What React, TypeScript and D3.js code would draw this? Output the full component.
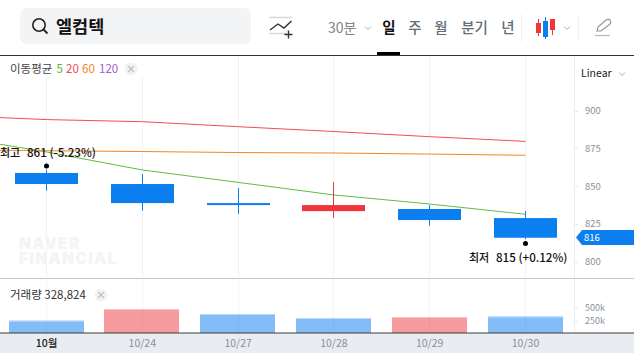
import React from "react";
import * as d3 from "d3";

const W = 634, H = 353;
const FONT = "'Noto Sans CJK KR','Noto Sans',sans-serif";

// ---- data ----
const dateLabels = ["10월", "10/24", "10/27", "10/28", "10/29", "10/30"];
const opens = [858.7, 851.4, 838.8, 833.5, 834.9, 828.9];
const closes = [851.4, 838.8, 837.5, 837.5, 827.6, 815.9];
const highs = [861, 858, 848.7, 852.7, 837.5, 833.5];
const lows = [847, 833.7, 831.7, 829, 823.8, 815];
const volumes = [246, 480, 380, 300, 320, 328.824];
const maIndex = [-1, 0, 1, 2, 3, 4, 5];
const ma5 = [883.1, 872.6, 860.7, 852.5, 844.2, 838.2, 831.4];
const ma20 = [896.7, 894, 892.6, 889.3, 886.1, 882.7, 879.6];
const ma60 = [874.2, 873.4, 872.9, 872.2, 871.9, 871.2, 870.4];
const priceTicks = [900, 875, 850, 825, 800];
const volumeTicks = [500, 250];
const currentPrice = 816;
const periods = ["일", "주", "월", "분기", "년"];
const periodX = [389, 415, 441, 474.5, 508];
const maLegend = [
  { t: "5", c: "#5cb531" }, { t: "20", c: "#ee4b4b" }, { t: "60", c: "#f5841f" }, { t: "120", c: "#a35bd0" },
];
const BLUE = "#0b7ff0", RED = "#f2353b";

const x = d3.scaleLinear().domain([0, 5]).range([46.5, 525.5]);
const y = d3.scaleLinear().domain([800, 900]).range([261.8, 110.5]);
const yVol = d3.scaleLinear().domain([0, 500]).range([333, 308]);
const maLine = (vals: number[]) =>
  d3.line<number>().x((_, i) => x(maIndex[i])).y((d) => y(d))(vals) as string;
const snap = (v: number) => Math.floor(v) + 0.5;

const Chevron = ({ cx, cy }: { cx: number; cy: number }) => (
  <path d={`M${cx - 3},${cy - 1.5}L${cx},${cy + 1.5}L${cx + 3},${cy - 1.5}`} fill="none" stroke="#a8adb5" strokeWidth={1} />
);
const CloseBadge = ({ cx, cy }: { cx: number; cy: number }) => (
  <g>
    <circle cx={cx} cy={cy} r={6.3} fill="#f1f2f3" />
    <path d={`M${cx - 2.8},${cy - 2.8}L${cx + 2.8},${cy + 2.8}M${cx + 2.8},${cy - 2.8}L${cx - 2.8},${cy + 2.8}`} stroke="#b8bbc0" strokeWidth={1.2} />
  </g>
);

export default function App() {
  const bw = 63, vw = 75;
  return (
    <svg width={W} height={H} viewBox={`0 0 ${W} ${H}`} fontFamily={FONT}
      style={{ position: "fixed", left: 0, top: 0, background: "#fff", display: "block" }}>
      {/* Header */}
      <rect x={20} y={8} width={231} height={36} rx={7} fill="#f3f4f6" />
      <circle cx={39} cy={25} r={6.2} fill="none" stroke="#222" strokeWidth={1.6} />
      <line x1={43.5} y1={29.5} x2={47.5} y2={33.5} stroke="#222" strokeWidth={1.8} />
      <text x={56} y={32.5} fontSize={17.5} fontWeight={700} fill="#111">엘컴텍</text>
      <g fill="none">
        <path d="M269,17.5H292M269,33.5H287" stroke="#d8d9dc" strokeWidth={1.4} />
        <path d="M270,30L278,24L284,28L291.5,21" stroke="#333" strokeWidth={1.4} />
        <path d="M284.5,34.5H292.5M288.5,30.5V38.5" stroke="#333" strokeWidth={1.4} />
      </g>
      <text x={328} y={33} fontSize={14} fill="#80858d">30분</text>
      <Chevron cx={368} cy={28} />
      {periods.map((p, i) => (
        <text key={p} x={periodX[i]} y={33} textAnchor="middle" fontSize={14.5} fontWeight={i === 0 ? 700 : 500} fill={i === 0 ? "#111" : "#666c75"}>{p}</text>
      ))}
      <rect x={377} y={52} width={23} height={3} fill="#000" />
      <line x1={521.5} y1={14} x2={521.5} y2={42} stroke="#f0f1f3" />
      <line x1={578.5} y1={14} x2={578.5} y2={42} stroke="#f0f1f3" />
      <g>
        <line x1={538.5} y1={19} x2={538.5} y2={36} stroke={RED} />
        <rect x={536} y={23} width={5} height={10} fill={RED} />
        <line x1={545.5} y1={17} x2={545.5} y2={39} stroke={BLUE} />
        <rect x={543} y={21} width={5} height={16} fill={BLUE} />
        <line x1={552.5} y1={19} x2={552.5} y2={35} stroke={RED} />
        <rect x={550} y={19} width={5} height={11} fill={RED} />
      </g>
      <Chevron cx={567} cy={28} />
      <g fill="none" stroke="#8f949b" strokeWidth={1.1}>
        <path d="M597,31L598,27L606,20Q609,18.5 610.5,20.5Q611.5,22.5 609.5,24.5L601,31Z" />
        <path d="M595,35.5H610" stroke="#b5b8bd" strokeWidth={1.2} />
      </g>

      {/* Frame */}
      <line x1={0} y1={55.5} x2={W} y2={55.5} stroke="#333" strokeWidth={1} />
      {dateLabels.map((_, i) => (
        <line key={i} x1={snap(x(i))} x2={snap(x(i))} y1={i < 2 ? 76 : 56} y2={276} stroke="#f1f2f4" />
      ))}
      <line x1={574.5} y1={56} x2={574.5} y2={333} stroke="#eceef1" />
      <line x1={0} y1={278.5} x2={W} y2={278.5} stroke="#c9cad1" />

      {/* Watermark */}
      <text fontFamily="Inter,'Open Sans',sans-serif" fontWeight={900} fontSize={15.5} fill="#f3f4f6" letterSpacing={1.3}>
        <tspan x={19} y={249}>NAVER</tspan>
        <tspan x={19} y={264}>FINANCIAL</tspan>
      </text>

      {/* Legend */}
      <text x={10} y={73} fontSize={11.5} fill="#444">이동평균</text>
      {(() => {
        const xs = [56.5, 66, 82, 99];
        return maLegend.map((m, i) => (
          <text key={m.t} x={xs[i]} y={73} fontSize={11.5} fill={m.c}>{m.t}</text>
        ));
      })()}
      <CloseBadge cx={131} cy={69} />
      <text x={581} y={77} fontSize={10.5} fill="#222">Linear</text>
      <Chevron cx={622} cy={74} />

      {/* MA lines */}
      <path d={maLine(ma5)} fill="none" stroke="#62bb46" strokeWidth={1} />
      <path d={maLine(ma60)} fill="none" stroke="#f5861f" strokeWidth={1} />
      <path d={maLine(ma20)} fill="none" stroke="#ee5058" strokeWidth={1} />

      {/* Candles */}
      {dateLabels.map((_, i) => {
        const up = closes[i] > opens[i];
        const c = up ? RED : BLUE;
        const top = y(Math.max(opens[i], closes[i]));
        const bot = y(Math.min(opens[i], closes[i]));
        const cx = snap(x(i));
        return (
          <g key={i}>
            <line x1={cx} x2={cx} y1={y(highs[i])} y2={y(lows[i])} stroke={c} strokeWidth={1} />
            <rect x={cx - bw / 2} y={top} width={bw} height={bot - top} fill={c} />
          </g>
        );
      })}

      {/* High / low markers */}
      <circle cx={46.5} cy={166} r={2.5} fill="#000" />
      <text x={0} y={157} fontSize={11} fontWeight={500} fill="#111">최고</text>
      <text x={27} y={157} fontSize={11.6} fontWeight={500} fill="#111">861 (-5.23%)</text>
      <circle cx={525.5} cy={243.5} r={2.5} fill="#000" />
      <text x={469} y={262} fontSize={11} fontWeight={500} fill="#111">최저</text>
      <text x={496} y={262} fontSize={11.6} fontWeight={500} fill="#111">815 (+0.12%)</text>

      {/* Price axis */}
      {priceTicks.map((t) => (
        <g key={t}>
          <line x1={575} x2={578} y1={Math.round(y(t)) + 0.5} y2={Math.round(y(t)) + 0.5} stroke="#e3e5e9" />
          <text x={585} y={y(t) + 3.5} fontSize={9.5} fill="#8b9099">{t}</text>
        </g>
      ))}
      <path d="M576,237.5L582,230H634V245H582Z" fill={BLUE} />
      <text x={584} y={241} fontSize={9.5} fill="#fff">{currentPrice}</text>

      {/* Volume */}
      <text x={10} y={299} fontSize={11.5} fill="#333">거래량 328,824</text>
      <CloseBadge cx={101} cy={295} />
      {volumes.map((v, i) => {
        const up = i === 1 || i === 4;
        const left = Math.floor(x(i) - vw / 2);
        return (
          <g key={i}>
            <rect x={left} y={yVol(v)} width={vw} height={333 - yVol(v)} fill={up ? "#f69b9d" : "#84bcf8"} />
            <rect x={left} y={yVol(v)} width={vw} height={1} fill={up ? "#f9c3c4" : "#b8d8fb"} />
            <line x1={snap(x(i))} x2={snap(x(i))} y1={279} y2={333} stroke="#000" strokeOpacity={0.035} />
          </g>
        );
      })}
      {volumeTicks.map((t) => (
        <g key={t}>
          <line x1={575} x2={578} y1={Math.round(yVol(t)) + 0.5} y2={Math.round(yVol(t)) + 0.5} stroke="#e3e5e9" />
          <text x={585} y={yVol(t) + 3} fontSize={9} fill="#8b9099">{t}k</text>
        </g>
      ))}

      {/* Time axis */}
      <rect x={0} y={333} width={W} height={20} fill="#e9ecf1" />
      <line x1={0} y1={333} x2={W} y2={333} stroke="#3a3a3a" strokeWidth={1} />
      {dateLabels.map((d, i) => (
        <text key={d} x={x(i)} y={347} textAnchor="middle" fontSize={10.5} fontWeight={i === 0 ? 500 : 400} fill={i === 0 ? "#222" : "#8b9099"}>{d}</text>
      ))}
    </svg>
  );
}
